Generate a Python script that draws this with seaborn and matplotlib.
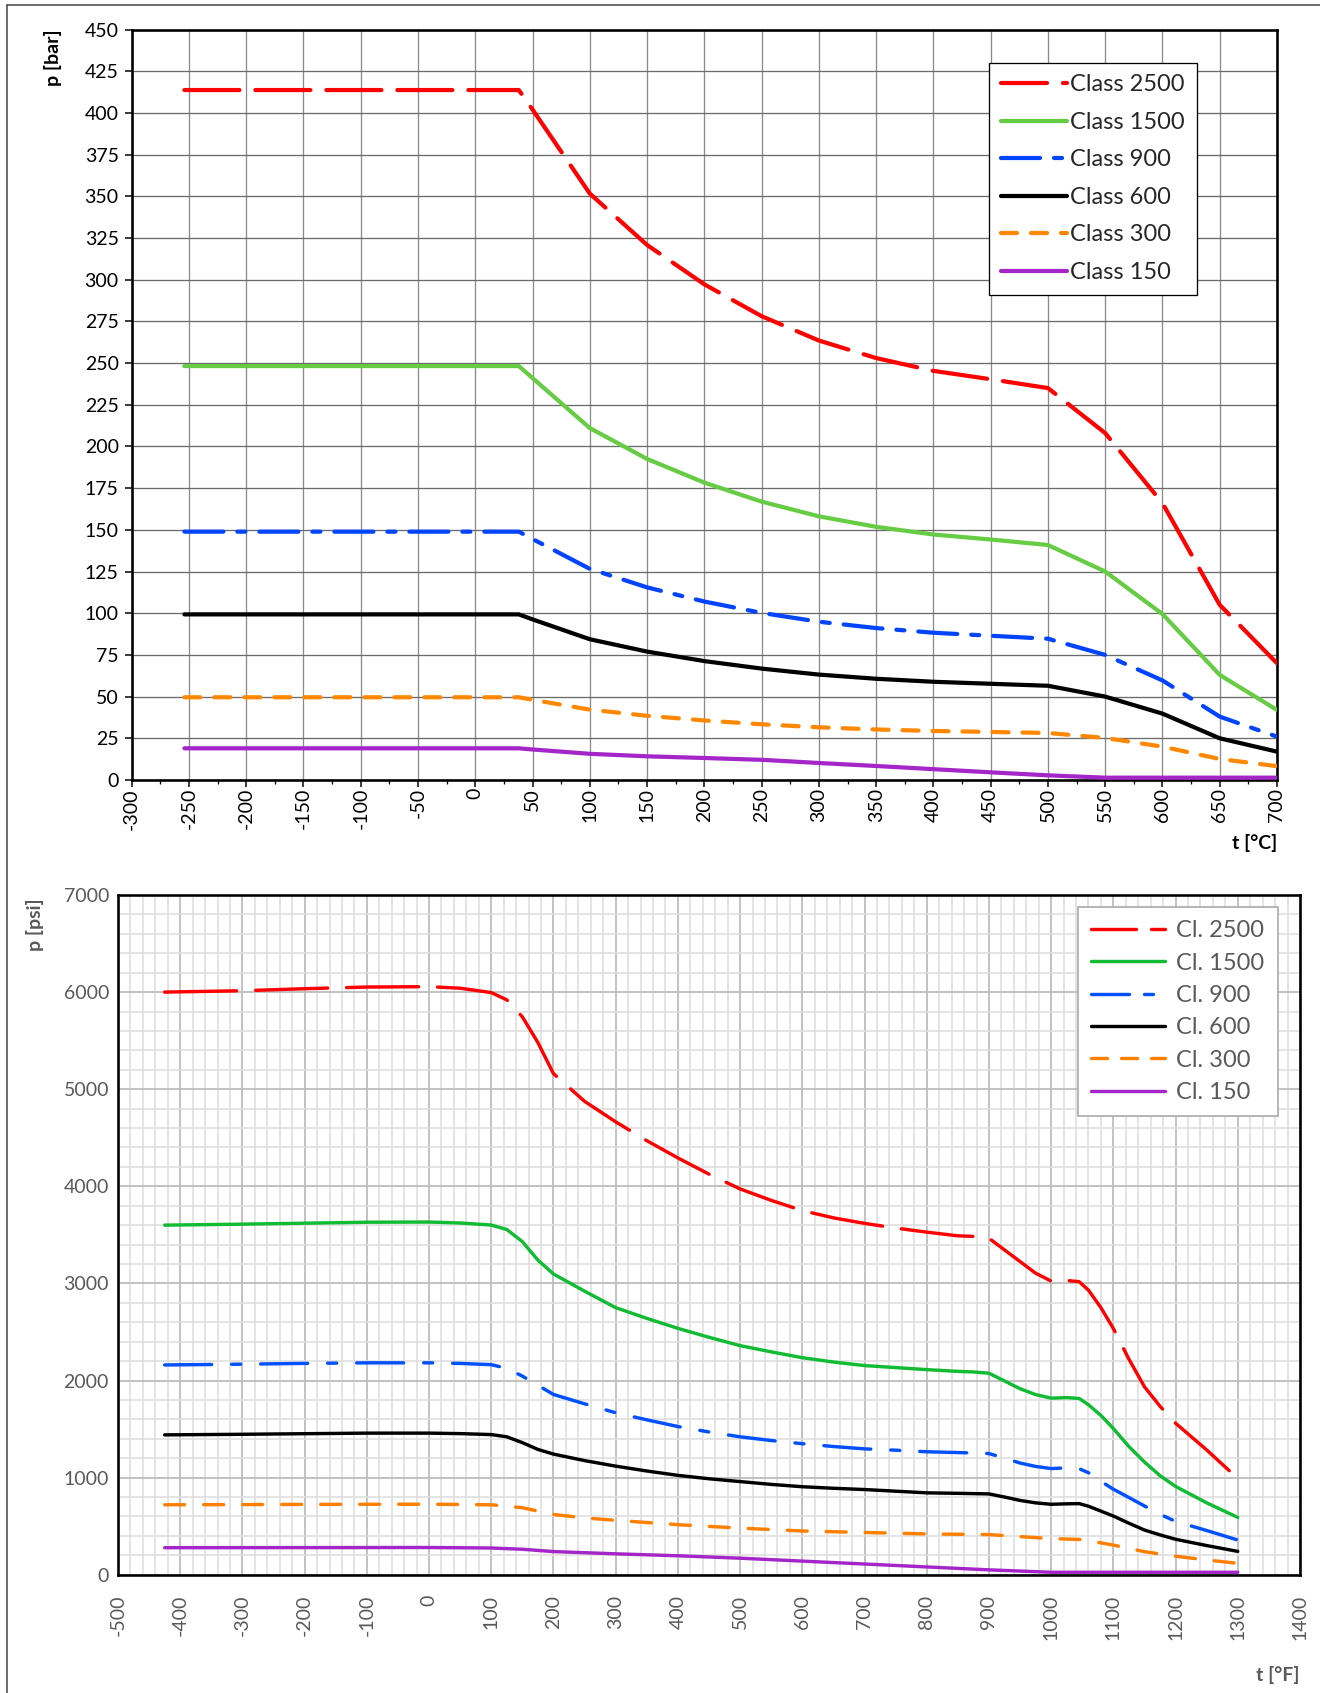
import numpy as np
import pandas as pd
import matplotlib
matplotlib.use("Agg")
import matplotlib.pyplot as plt
from matplotlib.lines import Line2D
from matplotlib.ticker import MultipleLocator, FixedLocator, FixedFormatter
import seaborn as sns

# ------------------------------------------------------------------ DATA
# Top chart: temperature [°C] vs pressure [bar]
temp_c = [-254, 38, 50, 100, 150, 200, 250, 300, 350, 400, 450, 500, 550, 600, 650, 700]
bar_2500 = [413.7, 413.7, 402.0, 351.6, 320.8, 297.2, 278.1, 263.5, 253.0, 245.3, 240.3, 235.0, 208.0, 166.0, 105.0, 70.0]
bar_1500 = [248.2, 248.2, 241.0, 211.0, 192.5, 178.3, 166.9, 158.1, 151.8, 147.2, 144.2, 140.9, 125.0, 99.5, 63.0, 42.0]
bar_900 = [148.9, 148.9, 144.5, 126.6, 115.5, 107.0, 100.2, 94.9, 91.1, 88.3, 86.5, 84.7, 75.0, 59.7, 38.0, 26.0]
bar_600 = [99.3, 99.3, 96.3, 84.4, 77.0, 71.3, 66.8, 63.2, 60.7, 58.9, 57.7, 56.5, 50.0, 39.8, 25.0, 17.0]
bar_300 = [49.6, 49.6, 48.1, 42.2, 38.5, 35.7, 33.4, 31.6, 30.3, 29.4, 28.8, 28.2, 25.2, 20.0, 12.6, 8.3]
bar_150 = [19.0, 19.0, 18.3, 15.7, 14.2, 13.2, 12.1, 10.2, 8.4, 6.5, 4.6, 2.8, 1.4, 1.4, 1.4, 1.4]
labels_top = ["Class 2500", "Class 1500", "Class 900", "Class 600", "Class 300", "Class 150"]
xticks_c = [-300, -250, -200, -150, -100, -50, 0, 50, 100, 150, 200, 250, 300, 350, 400, 450, 500, 550, 600, 650, 700]
xticklabels_c = ["-300", "-250", "-200", "-150", "-100", "-50", "0", "50", "100", "150", "200", "250",
                 "300", "350", "400", "450", "500", "550", "600", "650", "700"]
yticks_bar = [0, 25, 50, 75, 100, 125, 150, 175, 200, 225, 250, 275, 300, 325, 350, 375, 400, 425, 450]

# Bottom chart: temperature [°F] vs pressure [psi]
temp_f = [-425, -300, -200, -100, 0, 50, 100, 125, 150, 175, 200, 250, 300, 350, 400, 450, 500, 550, 600, 650,
          700, 750, 800, 850, 875, 900, 925, 950, 975, 1000, 1025, 1045, 1060, 1080, 1100, 1125, 1150, 1175,
          1200, 1250, 1300]
psi_2500 = [6000, 6014, 6035, 6052, 6056, 6040, 5995, 5920, 5745, 5480, 5160, 4875, 4664, 4470, 4292, 4125, 3973,
            3855, 3750, 3675, 3618, 3570, 3528, 3490, 3484, 3465, 3345, 3225, 3105, 3024, 3030, 3018, 2930, 2750,
            2535, 2220, 1935, 1735, 1560, 1285, 990]
psi_1500 = [3600, 3610, 3620, 3630, 3632, 3622, 3601, 3555, 3430, 3240, 3097, 2920, 2750, 2640, 2537, 2445, 2359,
            2295, 2235, 2190, 2154, 2133, 2112, 2094, 2088, 2075, 1995, 1915, 1855, 1818, 1824, 1815, 1750, 1640,
            1505, 1320, 1160, 1020, 909, 740, 590]
psi_900 = [2160, 2168, 2176, 2182, 2182, 2176, 2163, 2125, 2045, 1950, 1856, 1760, 1668, 1595, 1526, 1470, 1420,
           1382, 1349, 1320, 1296, 1282, 1266, 1258, 1253, 1248, 1200, 1150, 1115, 1093, 1100, 1092, 1050, 962,
           880, 795, 708, 622, 549, 455, 357]
psi_600 = [1440, 1446, 1452, 1458, 1458, 1453, 1443, 1420, 1360, 1290, 1242, 1175, 1118, 1068, 1023, 988, 959,
           930, 906, 890, 877, 860, 843, 838, 835, 832, 800, 765, 740, 725, 730, 732, 705, 655, 604, 530, 460,
           410, 365, 300, 240]
temp_f_300 = [-425, -200, 0, 100, 150, 200, 250, 300, 400, 500, 600, 700, 800, 900, 950, 1000, 1050, 1100, 1150,
              1200, 1250, 1300]
psi_300 = [720, 724, 726, 720, 690, 620, 585, 560, 515, 480, 450, 435, 420, 413, 392, 372, 362, 305, 237, 190,
           152, 117]
temp_f_150 = [-425, 0, 100, 150, 200, 300, 400, 500, 600, 700, 800, 900, 1000, 1100, 1200, 1300]
psi_150 = [278, 280, 275, 262, 238, 215, 195, 170, 140, 110, 80, 50, 25, 25, 25, 25]
labels_bot = ["Cl. 2500", "Cl. 1500", "Cl. 900", "Cl. 600", "Cl. 300", "Cl. 150"]
xticks_f = list(range(-500, 1401, 100))
xticklabels_f = ["-500", "-400", "-300", "-200", "-100", "0", "100", "200", "300", "400", "500", "600", "700",
                 "800", "900", "1000", "1100", "1200", "1300", "1400"]
yticks_psi = [0, 1000, 2000, 3000, 4000, 5000, 6000, 7000]
yticklabels_psi = ["0", "1000", "2000", "3000", "4000", "5000", "6000", "7000"]

# ------------------------------------------------------------------ STYLE
sns.set_style("white")
plt.rcParams['font.family'] = ['Lato', 'DejaVu Sans']
plt.rcParams['axes.unicode_minus'] = False
plt.rcParams['lines.scale_dashes'] = False

W, H = 1320, 1693
DPI = 100


def px(v):
    return v * 72.0 / DPI


def fx(x):
    return x / W


def fy(y):
    return 1 - y / H


fig = plt.figure(figsize=(W / DPI, H / DPI), dpi=DPI)
fig.patch.set_facecolor('white')


def draw(ax, x, y, color, lw, dashes=None, z=3):
    kw = dict(color=color, linewidth=px(lw), solid_capstyle='round', dash_capstyle='round',
              solid_joinstyle='round', dash_joinstyle='round', zorder=z)
    if dashes is not None:
        kw['linestyle'] = (0, tuple(px(d) for d in dashes))
    df = pd.DataFrame({"x": x, "y": y})
    sns.lineplot(data=df, x="x", y="y", ax=ax, sort=False, estimator=None, **kw)


def handle(color, lw, dashes=None):
    kw = dict(color=color, linewidth=px(lw), solid_capstyle='round', dash_capstyle='round')
    if dashes is not None:
        kw['linestyle'] = (0, tuple(px(d) for d in dashes))
    return Line2D([], [], **kw)


# ------------------------------------------------------------------ TOP CHART
ax1 = fig.add_axes([fx(131.7), fy(780), (1277 - 131.7) / W, (780 - 29.5) / H])
top_cols = ['#ff0000', '#66cc44', '#0044ff', '#000000', '#ff8800', '#a526c8']
top_plot_dash = [(55, 16), None, (39, 14, 8, 14), None, (16, 14), None]
top_leg_dash = [(46, 16), None, (39, 14, 8, 14), None, (16, 14), None]
top_series = [bar_2500, bar_1500, bar_900, bar_600, bar_300, bar_150]
for ys, c, d in zip(top_series, top_cols, top_plot_dash):
    draw(ax1, temp_c, ys, c, 4.2, d)

ax1.set_xlim(-300, 700)
ax1.set_ylim(0, 450)
ax1.xaxis.set_major_locator(FixedLocator(xticks_c))
ax1.xaxis.set_major_formatter(FixedFormatter(xticklabels_c))
ax1.xaxis.set_minor_locator(MultipleLocator(25))
ax1.set_yticks(yticks_bar)
ax1.set_yticklabels([str(v) for v in yticks_bar])
ax1.set_xlabel("")
ax1.set_ylabel("")
ax1.grid(True, which='major', axis='x', color='#8a8a8a', linewidth=px(1.3))
ax1.grid(True, which='major', axis='y', color='#6a6a6a', linewidth=px(1.3))
ax1.set_axisbelow(True)
for s in ax1.spines.values():
    s.set_color('black')
    s.set_linewidth(px(2.6))
    s.set_visible(True)
ax1.tick_params(axis='both', which='major', direction='out', length=px(7), width=px(1.5),
                color='black', labelsize=14, labelcolor='black')
ax1.tick_params(axis='x', which='major', pad=px(1), bottom=True)
ax1.tick_params(axis='x', which='minor', direction='out', length=px(4), width=px(1.3), color='black', bottom=True)
ax1.tick_params(axis='y', which='major', pad=px(6), left=True)
plt.setp(ax1.get_xticklabels(), rotation=90)

leg1 = ax1.legend([handle(c, 4.2, d) for c, d in zip(top_cols, top_leg_dash)], labels_top,
                  loc='upper right', bbox_to_anchor=(0.930, 0.956), fontsize=17, frameon=True,
                  fancybox=False, edgecolor='black', framealpha=1, borderpad=0.5, labelspacing=0.70,
                  handlelength=2.8, handletextpad=0.15, borderaxespad=0)
leg1.get_frame().set_linewidth(px(1.3))
leg1.set_zorder(10)

fig.text(fx(53), fy(58), "p [bar]", rotation=90, ha='center', va='center', fontsize=14,
         fontweight='bold', color='black')
fig.text(fx(1277), fy(843), "t [°C]", ha='right', va='center', fontsize=14, fontweight='bold', color='black')

# ------------------------------------------------------------------ BOTTOM CHART
ax2 = fig.add_axes([fx(118), fy(1574.7), (1300 - 118) / W, (1574.7 - 895) / H])
bot_cols = ['#ff0000', '#11bb33', '#0050ff', '#000000', '#ff8000', '#a526c8']
bot_plot_dash = [(72, 19), None, (47, 20, 9, 20), None, (20, 19), None]
bot_leg_dash = [(45, 15), None, (38, 15, 9, 15), None, (16, 14), None]
bot_x = [temp_f, temp_f, temp_f, temp_f, temp_f_300, temp_f_150]
bot_y = [psi_2500, psi_1500, psi_900, psi_600, psi_300, psi_150]
for xs, ys, c, d in zip(bot_x, bot_y, bot_cols, bot_plot_dash):
    draw(ax2, xs, ys, c, 3.4, d)

gray_txt = '#595959'
ax2.set_xlim(-500, 1400)
ax2.set_ylim(0, 7000)
ax2.xaxis.set_major_locator(FixedLocator(xticks_f))
ax2.xaxis.set_major_formatter(FixedFormatter(xticklabels_f))
ax2.xaxis.set_minor_locator(MultipleLocator(20))
ax2.yaxis.set_major_locator(FixedLocator(yticks_psi))
ax2.yaxis.set_major_formatter(FixedFormatter(yticklabels_psi))
ax2.yaxis.set_minor_locator(MultipleLocator(200))
ax2.set_xlabel("")
ax2.set_ylabel("")
ax2.grid(True, which='minor', color='#dedede', linewidth=px(1.6))
ax2.grid(True, which='major', color='#bdbdbd', linewidth=px(1.8))
ax2.set_axisbelow(True)
for s in ax2.spines.values():
    s.set_color('black')
    s.set_linewidth(px(2.6))
    s.set_visible(True)
ax2.tick_params(axis='both', which='both', length=0, labelsize=14, labelcolor=gray_txt)
ax2.tick_params(axis='x', which='major', pad=px(20))
ax2.tick_params(axis='y', which='major', pad=px(9))
plt.setp(ax2.get_xticklabels(), rotation=90)

leg2 = ax2.legend([handle(c, 3.4, d) for c, d in zip(bot_cols, bot_leg_dash)], labels_bot,
                  loc='upper right', bbox_to_anchor=(0.981, 0.982), fontsize=17, frameon=True,
                  fancybox=False, edgecolor='#b0b0b0', framealpha=1, borderpad=0.55, labelspacing=0.48,
                  handlelength=3.1, handletextpad=0.5, borderaxespad=0, labelcolor=gray_txt)
leg2.get_frame().set_linewidth(px(1.8))
leg2.set_zorder(10)

fig.text(fx(35), fy(925), "p [psi]", rotation=90, ha='center', va='center', fontsize=14,
         fontweight='bold', color=gray_txt)
fig.text(fx(1300), fy(1675), "t [°F]", ha='right', va='center', fontsize=14, fontweight='bold', color=gray_txt)

# ------------------------------------------------------------------ OUTER FRAME
fig.add_artist(Line2D([fx(7), fx(7)], [0, fy(5)], color='#404040', linewidth=px(1.5)))
fig.add_artist(Line2D([fx(7), 1], [fy(5), fy(5)], color='#404040', linewidth=px(1.5)))

fig.savefig("out.png", dpi=DPI)
